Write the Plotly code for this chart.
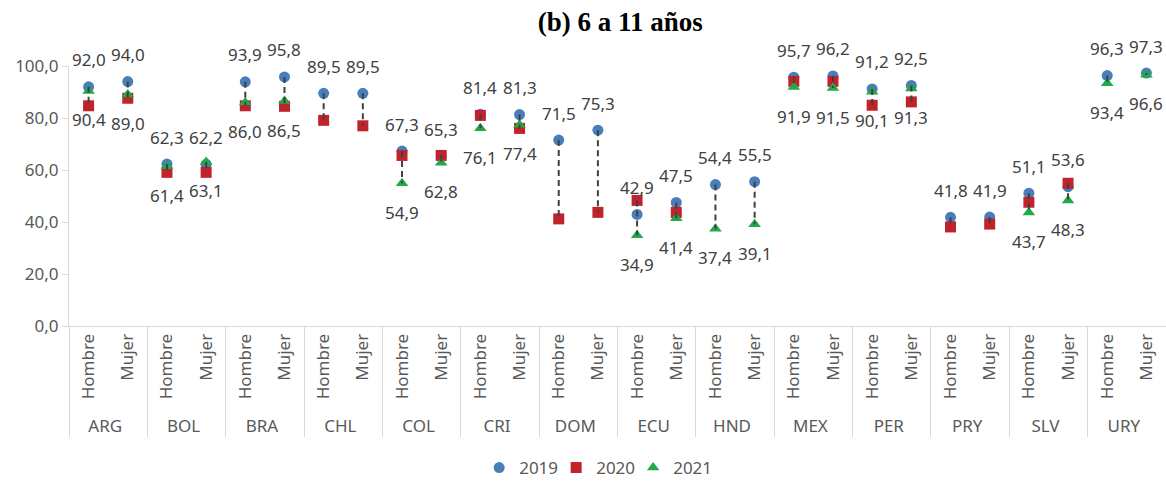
import plotly.graph_objects as go

countries = ["ARG", "BOL", "BRA", "CHL", "COL", "CRI", "DOM", "ECU", "HND", "MEX", "PER", "PRY", "SLV", "URY"]
sexes = ["Hombre", "Mujer"]

v2019 = [92.0, 94.0, 62.3, 62.2, 93.9, 95.8, 89.5, 89.5, 67.3, 65.3, 81.4, 81.3, 71.5, 75.3,
         42.9, 47.5, 54.4, 55.5, 95.7, 96.2, 91.2, 92.5, 41.8, 41.9, 51.1, 53.6, 96.3, 97.3]
v2020 = [84.7, 87.6, 59.1, 59.1, 84.7, 84.5, 79.1, 77.0, 65.6, 65.6, 81.0, 76.0, 41.2, 43.7,
         48.3, 43.7, None, None, 94.1, 94.1, 84.9, 86.2, 38.1, 39.2, 47.6, 54.9, None, None]
v2021 = [90.4, 89.0, 61.4, 63.1, 86.0, 86.5, None, None, 54.9, 62.8, 76.1, 77.4, None, None,
         34.9, 41.4, 37.4, 39.1, 91.9, 91.5, 90.1, 91.3, None, None, 43.7, 48.3, 93.4, 96.6]

outer = [c for c in countries for _ in sexes]
inner = [s for _ in countries for s in sexes]
xcat = [outer, inner]

LABEL = "#404040"
AXIS_TXT = "#595959"
FONT = "Noto Sans"
FS = 17

fig = go.Figure()

# high-low dashed lines (on a hidden numeric overlay axis sharing the same index scale)
lx, ly = [], []
for i in range(len(inner)):
    vals = [v for v in (v2019[i], v2020[i], v2021[i]) if v is not None]
    lx += [i, i, None]
    ly += [max(vals), min(vals), None]
fig.add_trace(go.Scatter(x=lx, y=ly, mode="lines", xaxis="x2",
                         line=dict(color="#404040", width=2, dash="6px,4px"),
                         showlegend=False, hoverinfo="skip"))

fig.add_trace(go.Scatter(x=xcat, y=v2019, mode="markers", name="2019",
                         marker=dict(symbol="circle", size=11, color="#4A7EBB")))
fig.add_trace(go.Scatter(x=xcat, y=v2020, mode="markers", name="2020",
                         marker=dict(symbol="square", size=11, color="#C0232B")))
fig.add_trace(go.Scatter(x=xcat, y=v2021, mode="markers", name="2021",
                         marker=dict(symbol="triangle-up", size=11, color="#22A94A")))

def fmt(v):
    return f"{v:.1f}".replace(".", ",")

annotations = []
for i in range(len(inner)):
    if v2019[i] is not None:
        annotations.append(dict(x=i, y=v2019[i], xref="x2", yref="y", text=fmt(v2019[i]),
                                showarrow=False, yshift=27, font=dict(size=FS, color=LABEL, family=FONT)))
    if v2021[i] is not None:
        annotations.append(dict(x=i, y=v2021[i], xref="x2", yref="y", text=fmt(v2021[i]),
                                showarrow=False, yshift=-29, font=dict(size=FS, color=LABEL, family=FONT)))

fig.update_layout(
    width=1166, height=481,
    margin=dict(l=69, r=0, t=66, b=155),
    paper_bgcolor="white", plot_bgcolor="white",
    separators=",.",
    font=dict(family=FONT, size=FS, color=AXIS_TXT),
    title=dict(text="<b>(b) 6 a 11 años</b>", x=0.532, xanchor="center",
               yref="container", y=0.955, yanchor="middle",
               font=dict(family="Liberation Serif", size=27, color="black")),
    xaxis=dict(type="multicategory", showline=True, linecolor="#d9d9d9", linewidth=1,
               showdividers=True, dividercolor="#d9d9d9", dividerwidth=1,
               tickangle=-90, tickfont=dict(size=FS, color=AXIS_TXT, family=FONT),
               showgrid=False, range=[-0.5, 27.5]),
    xaxis2=dict(overlaying="x", range=[-0.5, 27.5], visible=False, showgrid=False),
    yaxis=dict(range=[0, 100], dtick=20, tickformat=".1f", showgrid=False,
               showline=True, linecolor="#d9d9d9", linewidth=1,
               ticks="outside", ticklen=6, tickcolor="#d9d9d9",
               tickfont=dict(size=FS, color=AXIS_TXT, family=FONT), zeroline=False),
    legend=dict(orientation="h", xref="container", yref="container", x=0.51, y=0.027,
                xanchor="center", yanchor="middle", font=dict(size=FS, color=AXIS_TXT, family=FONT),
                itemwidth=30, entrywidth=32, entrywidthmode="pixels"),
    annotations=annotations,
)

fig.write_html("out.html", config={"displayModeBar": False},
               post_script="document.body.style.margin='0';document.body.style.overflow='hidden';")
